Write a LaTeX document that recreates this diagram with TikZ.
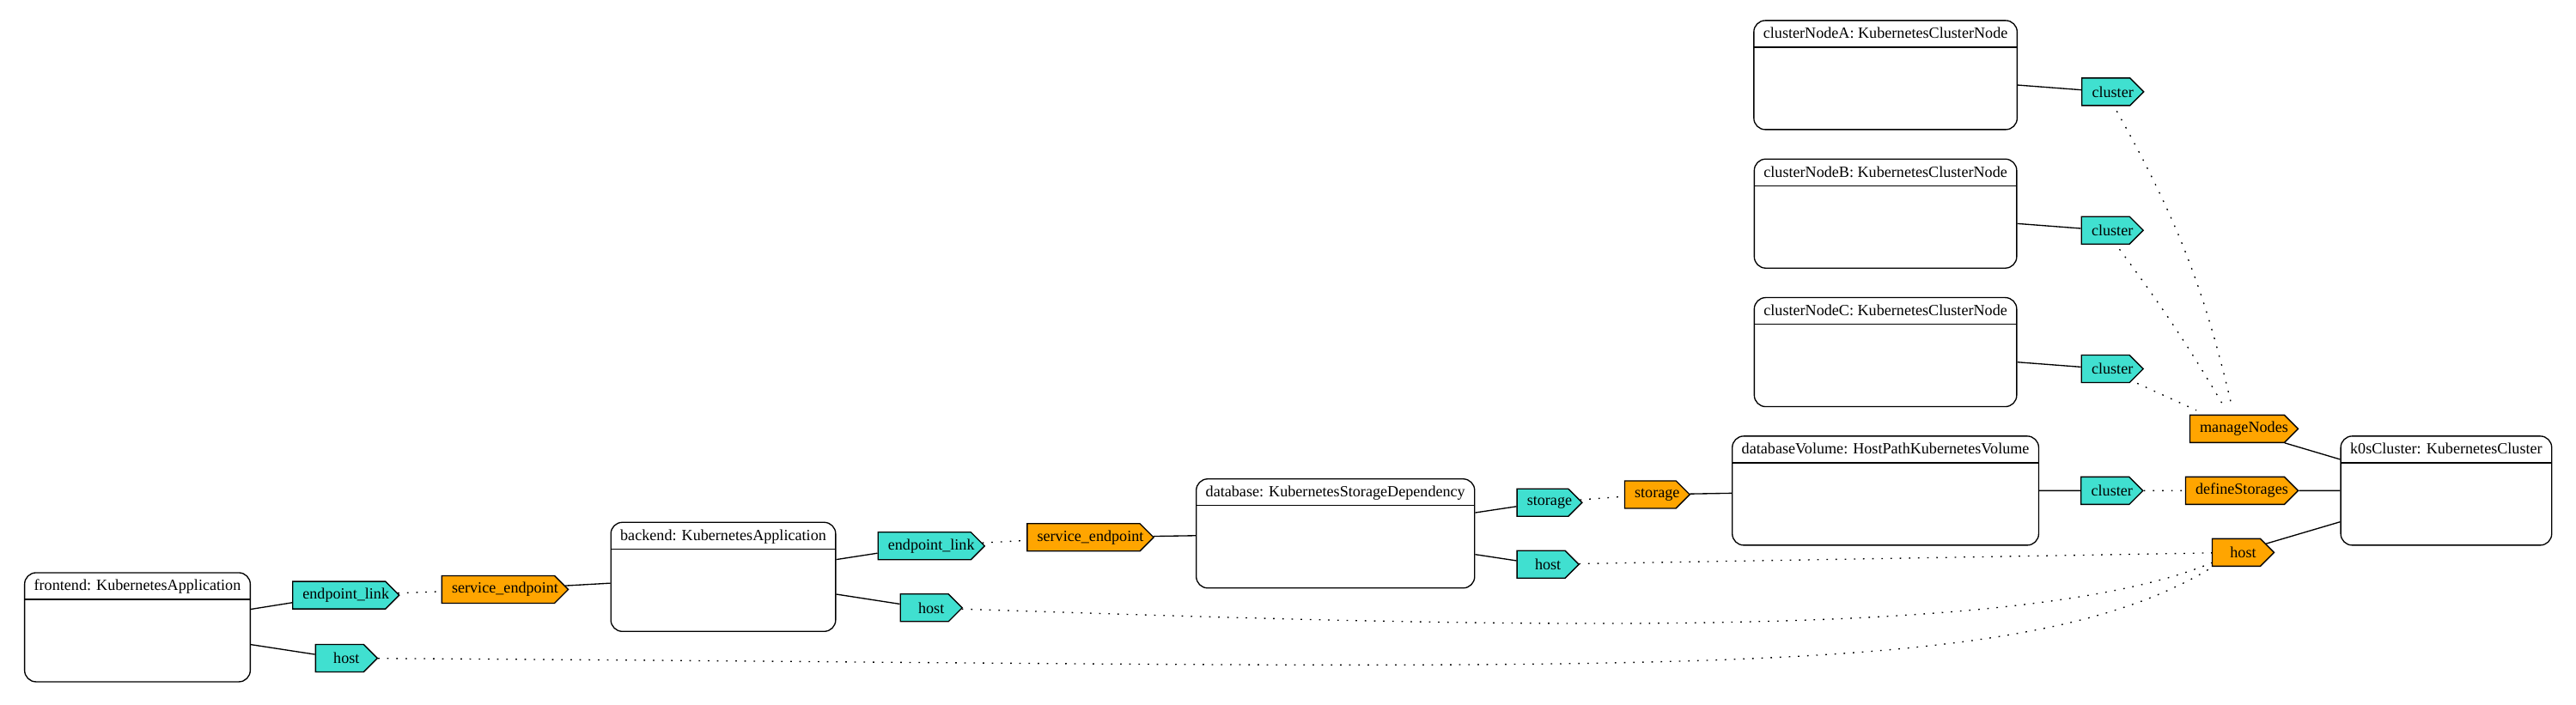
\documentclass[tikz,border=0pt]{standalone}
\usepackage{fontspec}
\setmainfont{Liberation Serif}
\usepackage{tikz}
\usetikzlibrary{
  shapes,       % Shape "signal" for the ports
  positioning,  % Function "of" (e.g. [right=of x])
}
\definecolor{myturquoise}{HTML}{40E0D0}
\definecolor{myorange}{HTML}{FFA500}
% Port text runs into the pointer, so it looks centred in the whole shape
\newlength{\myportwd}
\newcommand{\portlabel}[1]{%
  \settowidth{\myportwd}{#1}%
  \makebox[\dimexpr\myportwd-12pt\relax][l]{#1}%
}
\def\myndist{36pt}
\def\myvdist{24.75pt}
\def\myhdist{55.5pt}
\def\myradius{10pt}
\tikzset{
  font=\fontsize{13.6}{16}\selectfont,
  my class/.style={
    draw,
    rectangle,
    rounded corners=\myradius,
    minimum height=95.25pt,
    inner xsep=8.25pt,
    inner ysep=0pt,
    text height=15.75pt,
    text depth=79.5pt,
    path picture={
      \draw ([yshift=-23.25pt]path picture bounding box.north west)
         -- ([yshift=-23.25pt]path picture bounding box.north east);
    }
  },
  my port/.style={
    draw,
    signal,
    signal to=east,
    signal pointer angle=90,
    minimum height=24pt,
    minimum width=54pt,
    inner xsep=8.75pt,
    inner ysep=0pt
  },
  my required/.style={
    my port,
    fill=myturquoise
  },
  my provided/.style={
    my port,
    fill=myorange
  },
  my link/.style={
    dash pattern=on 1.3pt off 6.7pt
  },
  deployment/.style={
    line width=1pt,
    node distance=\myndist
  }
}

\begin{document}
\begin{tikzpicture}[deployment]
\useasboundingbox (0,0) rectangle (2249.25pt,615.75pt);
% main chain, left to right
\node[my class]                   (fe)  at (120pt,67.9pt)       {frontend: KubernetesApplication};
\node[my required,yshift=28pt]    (feLink)      [right=of fe]       {\portlabel{endpoint\_link}};
\node[my required,yshift=-27pt]   (feHost)      [right=56pt of fe]  {\portlabel{host}};
\node[my provided,yshift=5pt]     (beEp)        [right=of feLink]   {\portlabel{service\_endpoint}};
\node[my class,yshift=11pt]       (be)          [right=of beEp]     {backend: KubernetesApplication};
\node[my required,yshift=27pt]    (beLink)      [right=of be]       {\portlabel{endpoint\_link}};
\node[my required,yshift=-27pt]   (beHost)      [right=\myhdist of be] {\portlabel{host}};
\node[my provided,yshift=7.5pt]   (dbEp)        [right=of beLink]   {\portlabel{service\_endpoint}};
\node[my class,yshift=3.4pt]      (db)          [right=of dbEp]     {database: KubernetesStorageDependency};
\node[my required,yshift=27pt]    (dbStorage)   [right=of db]       {\portlabel{storage}};
\node[my required,yshift=-27pt]   (dbHost)      [right=of db]       {\portlabel{host}};
\node[my provided,yshift=7pt]     (volStorage)  [right=of dbStorage] {\portlabel{storage}};
\node[my class,yshift=3.4pt]      (vol)         [right=of volStorage] {databaseVolume: HostPathKubernetesVolume};
\node[my required]                (volCluster)  [right=of vol]      {\portlabel{cluster}};
\node[my provided]                (k0sStorages) [right=of volCluster] {\portlabel{defineStorages}};
\node[my class]                   (k0s)         [right=of k0sStorages] {k0sCluster: KubernetesCluster};
\node[my provided,yshift=54pt]    (k0sNodes)    [left=of k0s]       {\portlabel{manageNodes}};
\node[my provided,yshift=-54pt]   (k0sHost)     [left=57pt of k0s]  {\portlabel{host}};
% cluster nodes, stacked above the volume
\node[my class]                   (nodeC)       [above=\myvdist of vol]   {clusterNodeC: KubernetesClusterNode};
\node[my class]                   (nodeB)       [above=\myvdist of nodeC] {clusterNodeB: KubernetesClusterNode};
\node[my class]                   (nodeA)       [above=\myvdist of nodeB] {clusterNodeA: KubernetesClusterNode};
\node[my required,yshift=-14.6pt] (cCluster)    [right=\myhdist of nodeC] {\portlabel{cluster}};
\node[my required,yshift=-14.6pt] (bCluster)    [right=\myhdist of nodeB] {\portlabel{cluster}};
\node[my required,yshift=-14.6pt] (aCluster)    [right=\myhdist of nodeA] {\portlabel{cluster}};
\path (fe)          edge (feLink)
      (fe)          edge (feHost)
      (beEp)        edge (be)
      (be)          edge (beLink)
      (be)          edge (beHost)
      (dbEp)        edge (db)
      (db)          edge (dbStorage)
      (db)          edge (dbHost)
      (volStorage)  edge (vol)
      (vol)         edge (volCluster)
      (k0sStorages) edge (k0s)
      (k0sNodes)    edge (k0s)
      (k0sHost)     edge (k0s)
      (nodeA)       edge (aCluster)
      (nodeB)       edge (bCluster)
      (nodeC)       edge (cCluster);
\path[my link]
      (feLink)      edge (beEp)
      (beLink)      edge (dbEp)
      (dbStorage)   edge (volStorage)
      (volCluster)  edge (k0sStorages)
      (dbHost)      edge (k0sHost);
\path[my link,shorten <=5pt,shorten >=9pt]
      (aCluster)    edge[bend left=8] (k0sNodes)
      (bCluster)    edge[bend left=3] (k0sNodes)
      (cCluster)    edge              (k0sNodes);
\draw[my link] (feHost) .. controls +(1122pt,-6.75pt) and +(-193.5pt,-118.5pt) .. (k0sHost);
\draw[my link] (beHost) .. controls +(459.75pt,-15pt) and +(-193.5pt,-81pt) .. (k0sHost);
\end{tikzpicture}
\end{document}
